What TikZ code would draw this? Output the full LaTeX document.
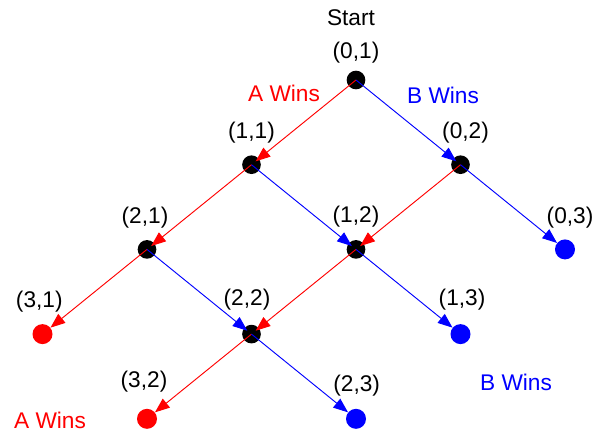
\documentclass[tikz,border=0pt]{standalone}
\usepackage{fontspec}
\setmainfont{Liberation Sans}
\usetikzlibrary{arrows.meta}

\begin{document}
\begin{tikzpicture}[x=0.75pt,y=-0.75pt,>={Triangle[length=11pt,width=8.5pt]},
  dot/.style={circle,fill=black,inner sep=0pt,minimum size=14pt},
  enda/.style={circle,fill=red,inner sep=0pt,minimum size=15pt},
  endb/.style={circle,fill=blue,inner sep=0pt,minimum size=15pt},
  lbl/.style={font=\fontsize{17}{20}\selectfont},
  awin/.style={red,->,line width=0.7pt},
  bwin/.style={blue,->,line width=0.7pt}]
  \useasboundingbox (0,0) rectangle (596,436);

  % states (a,b)
  \foreach \n/\x/\y in {01/356/80,11/251.5/164.7,02/460.5/164.7,
                        21/147/249.4,12/356/249.4,22/251.5/334.1}
    \node[dot] (n\n) at (\x,\y) {};
  \foreach \n/\x/\y in {31/42.5/334.1,32/147/418.8}
    \node[enda] (n\n) at (\x,\y) {};
  \foreach \n/\x/\y in {03/565/249.4,13/460.5/334.1,23/356/418.8}
    \node[endb] (n\n) at (\x,\y) {};

  % state labels
  \foreach \n/\x/\y/\txt in {01/356/53/{(0,1)},11/251.5/133/{(1,1)},
      02/465.5/133/{(0,2)},21/145/218/{(2,1)},12/356/217/{(1,2)},
      03/570/218/{(0,3)},31/39.3/301.7/{(3,1)},22/247/300/{(2,2)},
      13/462/300/{(1,3)},32/144/382/{(3,2)},23/356.7/386/{(2,3)}}
    \node[lbl] (l\n) at (\x,\y) {\txt};
  \node[lbl] (start) at (351,18) {Start};

  % A wins a point
  \foreach \a/\b in {01/11,11/21,02/12,12/22}
    \draw[awin,shorten >=4pt] (n\a.center) -- (n\b.center);
  \foreach \a/\b in {21/31,22/32}
    \draw[awin] (n\a.center) -- (n\b);
  % B wins a point
  \foreach \a/\b in {01/02,11/12,21/22}
    \draw[bwin,shorten >=4pt] (n\a.center) -- (n\b.center);
  \foreach \a/\b in {02/03,12/13,22/23}
    \draw[bwin] (n\a.center) -- (n\b);

  \node[lbl,red] (atop) at (284,93) {A Wins};
  \node[lbl,blue] (btop) at (443,95) {B Wins};
  \node[lbl,blue] (bbot) at (516,382) {B Wins};
  \node[lbl,red] (abot) at (50,420) {A Wins};
\end{tikzpicture}
\end{document}
